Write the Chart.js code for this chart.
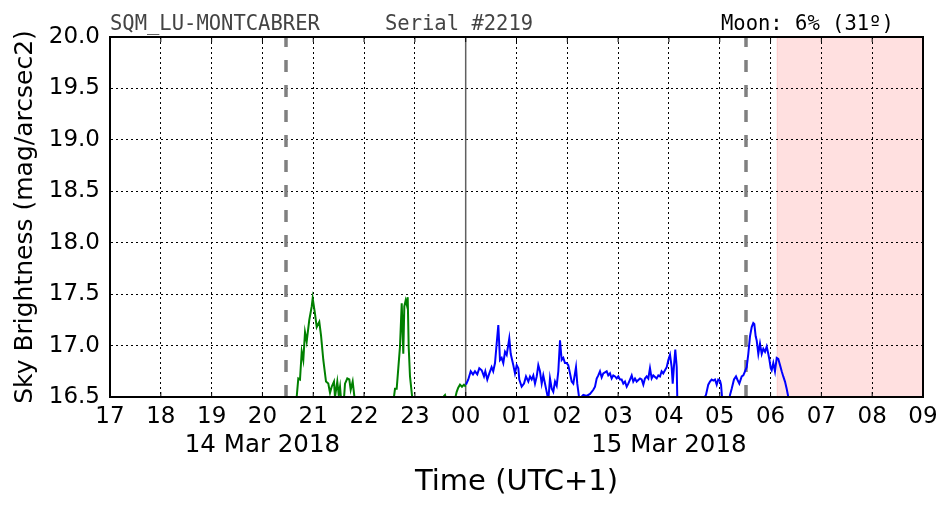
<!DOCTYPE html>
<html>
<head>
<meta charset="utf-8">
<script src="https://cdn.jsdelivr.net/npm/chart.js@4/dist/chart.umd.min.js"></script>
<style>
  html, body { margin: 0; padding: 0; background: #fff; }
  canvas { display: block; }
</style>
</head>
<body>
<canvas id="c" width="952" height="512"></canvas>
<script>
// hours counted from 00:00 on 14 Mar (so 24 = midnight, 33 = 09:00 next day)
const hourTicks = [17, 18, 19, 20, 21, 22, 23, 24, 25, 26, 27, 28, 29, 30, 31, 32, 33];
const hourLabels = ["17", "18", "19", "20", "21", "22", "23", "00", "01", "02", "03", "04", "05", "06", "07", "08", "09"];
const dateTickHours = [20, 28];
const dateTickLabels = ["14 Mar 2018", "15 Mar 2018"];

const stationName = "SQM_LU-MONTCABRER";
const serialText = "Serial #2219";
const moonText = "Moon: 6% (31º)";

const sunsetHour = 20.46;
const sunriseHour = 29.51;
const midnightHour = 24;
const twilightStart = 30.13;

// evening (14 Mar)
const eveningTime = [20.66, 20.674, 20.706, 20.739, 20.773, 20.804, 20.838, 20.871, 20.922, 20.970, 20.989,
  21.034, 21.068, 21.119, 21.153, 21.198, 21.251, 21.296, 21.330, 21.363, 21.408, 21.428, 21.473, 21.501,
  21.527, 21.560, 21.600, 21.625, 21.670, 21.710, 21.737, 21.776, 21.822, 22.0, 22.3, 22.575, 22.609,
  22.642, 22.674, 22.707, 22.741, 22.772, 22.792, 22.819, 22.839, 22.859, 22.878, 22.904, 22.957, 23.2,
  23.593, 23.632, 23.75, 23.823, 23.853, 23.888, 23.927, 23.966, 24.0];
const eveningMag = [16.3, 16.5, 16.68, 16.67, 16.94, 16.86, 17.13, 17.04, 17.25, 17.38, 17.46,
  17.31, 17.18, 17.23, 17.10, 16.86, 16.65, 16.63, 16.54, 16.60, 16.65, 16.50, 16.65, 16.52,
  16.60, 16.40, 16.45, 16.63, 16.68, 16.67, 16.57, 16.65, 16.45, 16.3, 16.3, 16.45, 16.58,
  16.58, 16.78, 16.99, 17.41, 16.92, 17.38, 17.44, 17.40, 17.47, 16.99, 16.70, 16.45, 16.3,
  16.52, 16.45, 16.4, 16.55, 16.59, 16.62, 16.60, 16.62, 16.60];

// after midnight (15 Mar)
const nightTime = [24.006, 24.051, 24.099, 24.144, 24.183, 24.228, 24.268, 24.315, 24.360, 24.386, 24.425,
  24.465, 24.510, 24.542, 24.577, 24.610, 24.642, 24.675, 24.708, 24.740, 24.774, 24.807, 24.858, 24.886,
  24.937, 24.970, 25.004, 25.036, 25.055, 25.102, 25.148, 25.187, 25.233, 25.266, 25.299, 25.331, 25.364,
  25.398, 25.429, 25.462, 25.496, 25.527, 25.561, 25.594, 25.626, 25.659, 25.693, 25.724, 25.758, 25.791,
  25.823, 25.856, 25.889, 25.921, 25.954, 25.988, 26.019, 26.053, 26.086, 26.118, 26.171, 26.196, 26.236,
  26.315, 26.381, 26.447, 26.512, 26.545, 26.578, 26.610, 26.643, 26.676, 26.708, 26.775, 26.806, 26.840,
  26.873, 26.905, 26.939, 26.972, 27.003, 27.037, 27.070, 27.102, 27.135, 27.169, 27.200, 27.234, 27.267,
  27.298, 27.332, 27.365, 27.430, 27.463, 27.496, 27.528, 27.562, 27.594, 27.627, 27.660, 27.692, 27.759,
  27.791, 27.824, 27.856, 27.888, 27.922, 27.956, 27.988, 28.021, 28.054, 28.074, 28.099, 28.125, 28.153,
  28.164, 28.178, 28.45, 28.729, 28.774, 28.808, 28.841, 28.873, 28.906, 28.940, 28.971, 29.005, 29.025,
  29.045, 29.054, 29.13, 29.202, 29.235, 29.280, 29.320, 29.346, 29.385, 29.432, 29.464, 29.497, 29.530,
  29.562, 29.595, 29.629, 29.660, 29.680, 29.707, 29.727, 29.759, 29.792, 29.826, 29.857, 29.891, 29.924,
  29.955, 29.975, 30.003, 30.022, 30.054, 30.087, 30.121, 30.152, 30.186, 30.219, 30.250, 30.284, 30.317,
  30.349, 30.372];
const nightMag = [16.62, 16.67, 16.75, 16.72, 16.75, 16.72, 16.78, 16.76, 16.70, 16.75, 16.67,
  16.73, 16.79, 16.75, 16.83, 17.02, 17.20, 16.86, 16.88, 16.83, 16.94, 16.91, 17.07, 16.92,
  16.81, 16.73, 16.81, 16.78, 16.67, 16.60, 16.63, 16.70, 16.65, 16.70, 16.67, 16.71, 16.63,
  16.70, 16.81, 16.75, 16.63, 16.71, 16.63, 16.55, 16.47, 16.68, 16.58, 16.55, 16.65, 16.61,
  16.75, 17.05, 16.86, 16.88, 16.83, 16.83, 16.81, 16.73, 16.65, 16.63, 16.79, 16.63, 16.48,
  16.52, 16.51, 16.53, 16.57, 16.60, 16.68, 16.71, 16.75, 16.69, 16.73, 16.75, 16.71, 16.73,
  16.68, 16.71, 16.70, 16.68, 16.70, 16.67, 16.67, 16.63, 16.65, 16.60, 16.63, 16.67, 16.71,
  16.65, 16.68, 16.65, 16.68, 16.67, 16.62, 16.68, 16.70, 16.68, 16.78, 16.68, 16.71, 16.68,
  16.71, 16.70, 16.75, 16.73, 16.76, 16.79, 16.86, 16.91, 16.79, 16.63, 16.80, 16.96, 16.79,
  16.50, 16.3, 16.3, 16.52, 16.62, 16.65, 16.67, 16.66, 16.67, 16.62, 16.67, 16.66, 16.62,
  16.5, 16.3, 16.3, 16.52, 16.58, 16.67, 16.70, 16.67, 16.63, 16.70, 16.71, 16.75, 16.79,
  16.92, 17.09, 17.18, 17.22, 17.21, 17.09, 17.05, 16.92, 17.02, 16.92, 16.97, 16.94, 16.99,
  16.92, 16.87, 16.78, 16.76, 16.83, 16.75, 16.88, 16.87, 16.81, 16.75, 16.70, 16.65, 16.58,
  16.50, 16.3];

const pairs = (xs, ys) => xs.map((x, i) => ({ x: x, y: ys[i] }));

const extras = {
  id: 'extras',
  beforeDraw(chart) {
    const { ctx, chartArea: a, scales: { x } } = chart;
    const x0 = x.getPixelForValue(twilightStart);
    ctx.save();
    ctx.fillStyle = 'rgba(255,0,0,0.12)';
    ctx.fillRect(x0, a.top, a.right - x0, a.bottom - a.top);
    ctx.strokeStyle = 'rgba(255,0,0,0.15)';
    ctx.lineWidth = 1;
    ctx.beginPath();
    ctx.moveTo(x0, a.top);
    ctx.lineTo(x0, a.bottom);
    ctx.stroke();
    ctx.restore();
  },
  beforeDatasetsDraw(chart) {
    const { ctx, chartArea: a, scales: { x } } = chart;
    ctx.save();
    ctx.beginPath();
    ctx.rect(a.left, a.top, a.right - a.left, a.bottom - a.top);
    ctx.clip();
    ctx.strokeStyle = '#808080';
    ctx.lineWidth = 3.5;
    ctx.setLineDash([12, 13]);
    [sunsetHour, sunriseHour].forEach(h => {
      const px = Math.round(x.getPixelForValue(h));
      ctx.beginPath();
      ctx.moveTo(px, a.bottom);
      ctx.lineTo(px, a.top - 5);
      ctx.stroke();
    });
    ctx.setLineDash([]);
    ctx.strokeStyle = '#606060';
    ctx.lineWidth = 1.5;
    const mx = x.getPixelForValue(midnightHour);
    ctx.beginPath();
    ctx.moveTo(mx, a.top);
    ctx.lineTo(mx, a.bottom);
    ctx.stroke();
    ctx.restore();
  },
  afterDraw(chart) {
    const { ctx, chartArea: a, scales: { x } } = chart;
    ctx.save();
    ctx.strokeStyle = '#000';
    ctx.lineWidth = 1;
    hourTicks.forEach(h => {
      const px = x.getPixelForValue(h);
      ctx.beginPath();
      ctx.moveTo(px, a.top);
      ctx.lineTo(px, a.top + 5);
      ctx.moveTo(px, a.bottom);
      ctx.lineTo(px, a.bottom - 5);
      ctx.stroke();
    });
    ctx.lineWidth = 2;
    ctx.strokeRect(a.left, a.top, a.right - a.left, a.bottom - a.top);

    ctx.font = "20.5px 'DejaVu Sans Mono'";
    ctx.textBaseline = 'alphabetic';
    ctx.textAlign = 'left';
    ctx.fillStyle = '#444';
    ctx.fillText(stationName, 110, 30);
    ctx.fillText(serialText, 385, 30);
    ctx.fillStyle = '#000';
    ctx.fillText(moonText, 721, 30);
    ctx.restore();
  }
};

new Chart(document.getElementById('c'), {
  type: 'line',
  data: {
    datasets: [
      { data: pairs(eveningTime, eveningMag), borderColor: '#008000', borderWidth: 2, pointRadius: 0, tension: 0 },
      { data: pairs(nightTime, nightMag), borderColor: '#0000ff', borderWidth: 2, pointRadius: 0, tension: 0 }
    ]
  },
  options: {
    responsive: false,
    animation: false,
    devicePixelRatio: 1,
    layout: { padding: { top: 37, right: 29, left: 0, bottom: 0 } },
    plugins: { legend: { display: false }, tooltip: { enabled: false } },
    scales: {
      x: {
        type: 'linear',
        position: 'bottom',
        weight: 0,
        min: 17,
        max: 33,
        afterBuildTicks: s => { s.ticks = hourTicks.map(v => ({ value: v })); },
        afterFit: s => { s.height = 30; },
        ticks: {
          autoSkip: false,
          maxRotation: 0,
          padding: 6.5,
          color: '#000',
          font: { family: 'DejaVu Sans', size: 23 },
          callback: v => hourLabels[hourTicks.indexOf(v)]
        },
        grid: { color: '#000', lineWidth: 1, drawTicks: false },
        border: { display: true, color: '#000', width: 2, dash: [2, 3] }
      },
      date: {
        type: 'linear',
        position: 'bottom',
        weight: 1,
        min: 17,
        max: 33,
        afterBuildTicks: s => { s.ticks = dateTickHours.map(v => ({ value: v })); },
        afterFit: s => { s.height = 85; },
        ticks: {
          autoSkip: false,
          maxRotation: 0,
          padding: 4,
          color: '#000',
          font: { family: 'DejaVu Sans', size: 24.5 },
          callback: v => dateTickLabels[dateTickHours.indexOf(v)]
        },
        grid: { display: false, drawTicks: false },
        border: { display: false },
        title: {
          display: true,
          text: 'Time (UTC+1)',
          color: '#000',
          font: { family: 'DejaVu Sans', size: 29 },
          padding: { top: 0, bottom: 12 }
        }
      },
      y: {
        min: 16.5,
        max: 20,
        afterFit: s => { s.width = 110; },
        ticks: {
          stepSize: 0.5,
          padding: 10,
          color: '#000',
          font: { family: 'DejaVu Sans', size: 23 },
          callback: v => v.toFixed(1)
        },
        grid: { color: '#000', lineWidth: 1, drawTicks: false },
        border: { display: true, color: '#000', width: 2, dash: [2, 3] },
        title: {
          display: true,
          text: 'Sky Brightness (mag/arcsec2)',
          color: '#000',
          font: { family: 'DejaVu Sans', size: 25 },
          padding: { top: 10.5, bottom: 0 }
        }
      }
    }
  },
  plugins: [extras]
});
</script>
</body>
</html>
